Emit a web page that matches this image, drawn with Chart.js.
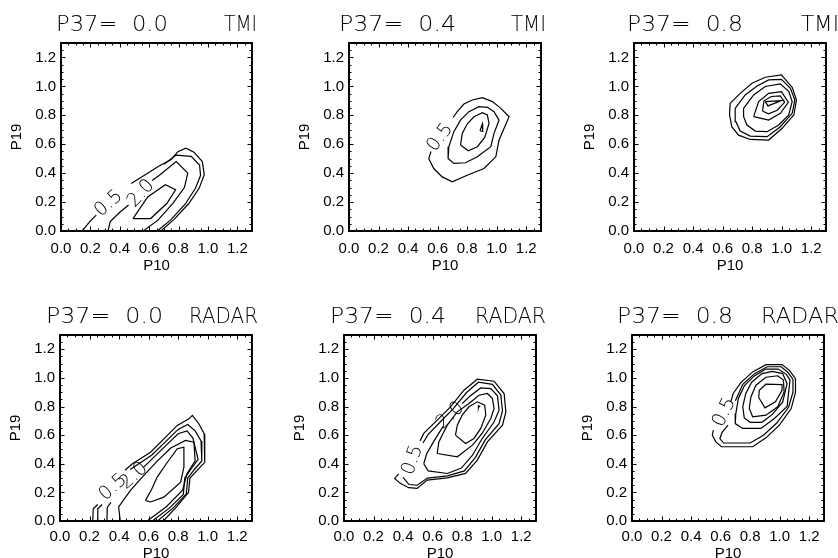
<!DOCTYPE html>
<html>
<head>
<meta charset="utf-8">
<script src="https://cdn.jsdelivr.net/npm/chart.js@4.4.1/dist/chart.umd.min.js"></script>
<style>
  html, body { margin: 0; padding: 0; background: #fff; overflow: hidden; }
  body { width: 838px; height: 558px; position: relative; }
  canvas { position: absolute; }
</style>
</head>
<body>
<script>
// axis ticks (both axes run 0 .. 1.3)
const X_TICKS = [0, 0.2, 0.4, 0.6, 0.8, 1.0, 1.2];
const Y_TICKS = [0, 0.2, 0.4, 0.6, 0.8, 1.0, 1.2];
const AXIS_MAX = 1.3;

const P37_TITLES = ['P37=  0.0', 'P37=  0.4', 'P37=  0.8', 'P37=  0.0', 'P37=  0.4', 'P37=  0.8'];
const SOURCES = ['TMI', 'TMI', 'TMI', 'RADAR', 'RADAR', 'RADAR'];

// contour lines as [P10, P19]; null breaks the line where a level label sits
const tmi00_c1 = [[0.144,0],[0.20,0.07],[0.24,0.11],null,[0.478,0.329],[0.568,0.386],[0.659,0.444],[0.75,0.495],[0.795,0.548],[0.85,0.572],[0.905,0.545],[0.962,0.48],[0.975,0.39],[0.94,0.295],[0.87,0.19],[0.77,0.08],[0.68,0]];
const tmi00_c2 = [[0.70,0.462],[0.784,0.525],[0.886,0.516],[0.943,0.456],[0.95,0.385],[0.915,0.295],[0.845,0.185],[0.745,0.075],[0.655,0]];
const tmi00_c3 = [[0.32,0],[0.335,0.065],[0.40,0.13],[0.46,0.18],null,[0.62,0.35],[0.67,0.385],[0.784,0.48],[0.863,0.40],[0.84,0.30],[0.76,0.19],[0.66,0.075],[0.56,0]];
const tmi00_c4 = [[0.49,0.086],[0.61,0.086],[0.72,0.19],[0.78,0.285],[0.71,0.32],[0.59,0.235],[0.49,0.086]];
const tmi00_labels = [['0.5', 0.325, 0.19, -41], ['2.0', 0.545, 0.26, -48]];

const tmi04_c1 = [[0.555,0.55],[0.54,0.50],[0.574,0.432],[0.631,0.374],[0.699,0.34],[0.80,0.386],[0.914,0.432],[0.994,0.513],[1.016,0.629],[1.084,0.79],[1.028,0.848],[0.971,0.895],[0.903,0.922],[0.835,0.906],[0.778,0.878],[0.733,0.825],[0.705,0.785]];
const tmi04_c2 = [[0.676,0.583],[0.671,0.502],[0.71,0.467],[0.789,0.472],[0.869,0.513],[0.96,0.583],[0.982,0.675],[1.016,0.767],[0.982,0.825],[0.937,0.855],[0.88,0.86],[0.812,0.825],[0.755,0.767],[0.71,0.687],[0.676,0.583]];
const tmi04_c3 = [[0.755,0.594],[0.808,0.555],[0.869,0.583],[0.919,0.647],[0.948,0.744],[0.937,0.802],[0.903,0.818],[0.846,0.79],[0.80,0.74],[0.767,0.675],[0.755,0.594]];
const tmi04_c4 = [[0.887,0.693],[0.903,0.74],[0.905,0.688],[0.887,0.693]];
const tmi04_labels = [['0.5', 0.617, 0.646, -53]];

const tmi08_c1 = [[0.651,0.883],[0.719,0.952],[0.799,1.022],[0.889,1.063],[0.998,1.08],[1.071,0.994],[1.10,0.906],[1.082,0.802],[1.003,0.71],[0.912,0.629],[0.787,0.633],[0.708,0.663],[0.662,0.721],[0.647,0.802],[0.651,0.883]];
const tmi08_c2 = [[0.685,0.848],[0.753,0.941],[0.833,1.003],[0.912,1.045],[0.998,1.049],[1.059,0.987],[1.089,0.906],[1.071,0.814],[0.991,0.721],[0.901,0.652],[0.787,0.656],[0.719,0.691],[0.69,0.756],[0.685,0.848]];
const tmi08_c3 = [[0.742,0.848],[0.81,0.941],[0.889,0.999],[0.991,1.017],[1.048,0.964],[1.071,0.895],[1.048,0.802],[0.98,0.733],[0.901,0.687],[0.821,0.691],[0.765,0.733],[0.742,0.791],[0.742,0.848]];
const tmi08_c4 = [[0.81,0.791],[0.844,0.895],[0.912,0.952],[0.998,0.964],[1.045,0.89],[0.991,0.814],[0.912,0.767],[0.81,0.791]];
const tmi08_c5 = [[0.87,0.83],[0.88,0.90],[0.93,0.93],[0.99,0.935],[1.02,0.89],[0.97,0.835],[0.91,0.81],[0.87,0.83]];
const tmi08_c6 = [[0.889,0.895],[0.998,0.902],[0.907,0.865],[0.889,0.895]];
const tmi08_labels = [];

const radar00_c1 = [[0.222,0],[0.225,0.085],[0.255,0.115],null,[0.44,0.355],[0.49,0.40],[0.613,0.481],[0.70,0.57],[0.794,0.668],[0.873,0.714],[0.896,0.738],[0.94,0.68],[0.976,0.61],[0.98,0.41],[0.93,0.355],[0.88,0.30],[0.87,0.20],[0.79,0.10],[0.70,0]];
const radar00_c2 = [[0.254,0],[0.256,0.085],[0.285,0.115],null,[0.475,0.36],[0.62,0.46],[0.71,0.55],[0.80,0.64],[0.865,0.675],[0.915,0.63],[0.955,0.56],[0.96,0.42],[0.91,0.36],[0.865,0.30],[0.855,0.19],[0.77,0.095],[0.66,0]];
const radar00_c3 = [[0.318,0],[0.32,0.095],[0.345,0.13],null,[0.565,0.375],[0.64,0.45],[0.72,0.53],[0.80,0.61],[0.86,0.63],[0.90,0.58],[0.935,0.43],[0.885,0.36],[0.845,0.30],[0.835,0.185],[0.74,0.09],[0.625,0]];
const radar00_c4 = [[0.408,0],[0.397,0.098],[0.477,0.214],[0.56,0.31],[0.66,0.42],[0.75,0.51],[0.85,0.563],[0.907,0.551],[0.915,0.42],[0.86,0.33],[0.83,0.215],[0.72,0.10],[0.59,0]];
const radar00_c5 = [[0.579,0.144],[0.62,0.22],[0.658,0.307],[0.72,0.40],[0.794,0.505],[0.839,0.516],[0.839,0.377],[0.817,0.272],[0.703,0.167],[0.613,0.133],[0.579,0.144]];
const radar00_labels = [['0.5', 0.36, 0.235, -42], ['2.0', 0.50, 0.315, -42]];

const radar04_c1 = [[0.37,0.33],[0.343,0.298],[0.381,0.263],[0.438,0.233],[0.495,0.228],[0.563,0.286],[0.699,0.302],[0.823,0.333],[0.903,0.426],[0.971,0.553],[1.073,0.67],[1.096,0.763],[1.084,0.891],[1.016,0.977],[0.903,0.991],[0.812,0.914],[0.721,0.798],[0.631,0.705],[0.54,0.612],[0.515,0.56]];
const radar04_c2 = [[0.40,0.305],[0.44,0.255],[0.495,0.25],[0.565,0.30],[0.70,0.316],[0.815,0.35],[0.89,0.445],[0.955,0.565],[1.05,0.68],[1.073,0.77],[1.062,0.88],[1.005,0.955],[0.91,0.97],[0.83,0.898],[0.74,0.785],[0.65,0.69],[0.57,0.605],[0.535,0.545]];
const radar04_c3 = [[0.54,0.40],[0.57,0.35],[0.70,0.332],[0.795,0.37],[0.87,0.46],[0.935,0.575],[1.015,0.69],[1.05,0.775],[1.039,0.875],[0.994,0.925],[0.925,0.93],[0.85,0.87],[0.80,0.82],null,[0.67,0.66],[0.61,0.56],[0.56,0.47],[0.54,0.40]];
const radar04_c4 = [[0.631,0.472],[0.767,0.449],[0.87,0.53],[0.935,0.612],[0.994,0.716],[1.016,0.786],[1.005,0.856],[0.971,0.891],[0.914,0.879],[0.846,0.821],[0.767,0.763],[0.699,0.67],[0.642,0.553],[0.631,0.472]];
const radar04_c5 = [[0.755,0.60],[0.823,0.542],[0.88,0.577],[0.926,0.647],[0.96,0.74],[0.953,0.809],[0.903,0.833],[0.846,0.798],[0.80,0.74],[0.767,0.67],[0.755,0.60]];
const radar04_c6 = [[0.91,0.795],[0.918,0.80],[0.912,0.805],[0.91,0.795]];
const radar04_labels = [['0.5', 0.465, 0.425, -70], ['2.0', 0.72, 0.737, -43]];

const radar08_c1 = [[0.669,0.833],[0.685,0.891],[0.737,0.967],[0.817,1.042],[0.907,1.093],[1.016,1.093],[1.066,1.053],[1.107,0.995],[1.107,0.90],[1.078,0.786],[0.998,0.67],[0.907,0.581],[0.817,0.519],[0.606,0.519],[0.567,0.553],[0.544,0.60],[0.551,0.635]];
const radar08_c2 = [[0.70,0.84],[0.75,0.955],[0.83,1.03],[0.915,1.078],[1.01,1.078],[1.055,1.04],[1.09,0.99],[1.09,0.90],[1.06,0.795],[0.98,0.685],[0.89,0.60],[0.80,0.545],[0.62,0.545],[0.595,0.575],[0.61,0.62],[0.65,0.67]];
const radar08_c3 = [[0.703,0.751],[0.699,0.681],[0.749,0.647],[0.873,0.647],[0.964,0.716],[1.05,0.80],[1.07,0.985],[1.045,1.025],[0.99,1.062],[0.907,1.062],[0.828,1.014],[0.76,0.944],[0.72,0.856],[0.703,0.751]];
const radar08_c4 = [[0.75,0.80],[0.76,0.72],[0.80,0.69],[0.88,0.69],[0.95,0.745],[1.02,0.83],[1.05,0.96],[1.02,1.03],[0.95,1.045],[0.88,1.03],[0.81,0.97],[0.77,0.89],[0.75,0.80]];
const radar08_c5 = [[0.794,0.786],[0.817,0.728],[0.907,0.74],[0.987,0.798],[1.03,0.902],[1.025,0.985],[0.987,1.015],[0.907,1.005],[0.839,0.949],[0.805,0.867],[0.794,0.786]];
const radar08_c6 = [[0.858,0.863],[0.90,0.791],[0.971,0.833],[1.016,0.914],[1.016,0.953],[0.907,0.956],[0.862,0.914],[0.858,0.863]];
const radar08_labels = [['0.5', 0.626, 0.76, -64]];

const PANEL_LINES = [
  [tmi00_c1, tmi00_c2, tmi00_c3, tmi00_c4],
  [tmi04_c1, tmi04_c2, tmi04_c3, tmi04_c4],
  [tmi08_c1, tmi08_c2, tmi08_c3, tmi08_c4, tmi08_c5, tmi08_c6],
  [radar00_c1, radar00_c2, radar00_c3, radar00_c4, radar00_c5],
  [radar04_c1, radar04_c2, radar04_c3, radar04_c4, radar04_c5, radar04_c6],
  [radar08_c1, radar08_c2, radar08_c3, radar08_c4, radar08_c5, radar08_c6],
];
const PANEL_LABELS = [tmi00_labels, tmi04_labels, tmi08_labels, radar00_labels, radar04_labels, radar08_labels];

// page layout: plot box of each panel, title text x positions and widths
const BOXES = [
  { x: 61,  y: 43,  w: 191, h: 188, xh: 46, tickPad: 10 },
  { x: 349, y: 43,  w: 192, h: 188, xh: 46, tickPad: 10 },
  { x: 634, y: 43,  w: 192, h: 188, xh: 46, tickPad: 10 },
  { x: 60,  y: 335, w: 192, h: 186, xh: 44, tickPad: 8 },
  { x: 344, y: 335, w: 192, h: 186, xh: 44, tickPad: 8 },
  { x: 632, y: 335, w: 192, h: 186, xh: 44, tickPad: 8 },
];
const TITLE_X = [[56, 224], [339, 511], [627, 801], [46, 189], [330, 475], [617, 761]];
const TITLE_W = [[112, 33], [117, 35], [116, 38], [117, 69], [116, 71], [116, 78]];
const PAD_L = 62, PAD_T = 45, PAD_R = 30;

const LABEL_FONT = '"Liberation Sans", Arial, sans-serif';
const THIN_FONT = '"DejaVu Sans", sans-serif';

// text squeezed/stretched to a given width (IDL vector font is wider than ours)
function fitText(ctx, txt, x, y, w) {
  const m = ctx.measureText(txt).width;
  ctx.save();
  ctx.translate(x, y);
  ctx.scale(w / m, 1);
  ctx.fillText(txt, 0, 0);
  ctx.restore();
}

// IDL-style box: frame plus inward major/minor ticks on all four sides
const idlFrame = {
  id: 'idlFrame',
  afterDatasetsDraw(chart, args, opts) {
    const { ctx, chartArea: a, scales: { x, y } } = chart;
    ctx.save();
    ctx.strokeStyle = '#000';
    ctx.lineWidth = 1;
    ctx.beginPath();
    for (let i = 1; i < 26; i++) {
      const len = i % 4 === 0 ? 4.5 : 2.5;
      const px = Math.round(x.getPixelForValue(i * 0.05)) + 0.5;
      const py = Math.round(y.getPixelForValue(i * 0.05)) + 0.5;
      ctx.moveTo(px, a.bottom); ctx.lineTo(px, a.bottom - len);
      ctx.moveTo(px, a.top); ctx.lineTo(px, a.top + len);
      ctx.moveTo(a.left, py); ctx.lineTo(a.left + len, py);
      ctx.moveTo(a.right, py); ctx.lineTo(a.right - len, py);
    }
    ctx.stroke();
    ctx.lineWidth = 2;
    ctx.strokeRect(a.left, a.top, a.width, a.height);

    // contour level labels
    ctx.fillStyle = '#000';
    ctx.font = '200 19px ' + THIN_FONT;
    ctx.textAlign = 'center';
    ctx.textBaseline = 'middle';
    opts.labels.forEach(([txt, vx, vy, rot]) => {
      ctx.save();
      ctx.translate(x.getPixelForValue(vx), y.getPixelForValue(vy));
      ctx.rotate(rot * Math.PI / 180);
      ctx.fillText(txt, 0, 0);
      ctx.restore();
    });

    // panel title
    ctx.font = '200 22px ' + THIN_FONT;
    ctx.textAlign = 'left';
    ctx.textBaseline = 'alphabetic';
    fitText(ctx, opts.title, opts.titleX, a.top - 12, opts.titleW);
    fitText(ctx, opts.source, opts.sourceX, a.top - 12, opts.sourceW);
    ctx.restore();
  }
};

BOXES.forEach((b, i) => {
  const W = PAD_L + b.w + PAD_R;
  const H = PAD_T + b.h + b.xh;
  const cv = document.createElement('canvas');
  cv.width = W; cv.height = H;
  cv.style.left = (b.x - PAD_L) + 'px';
  cv.style.top = (b.y - PAD_T) + 'px';
  cv.style.width = W + 'px';
  cv.style.height = H + 'px';
  document.body.appendChild(cv);

  const datasets = PANEL_LINES[i].map(line => ({
    data: line.map(p => p ? { x: p[0], y: p[1] } : { x: null, y: null }),
    showLine: true,
    spanGaps: false,
    borderColor: '#000',
    borderWidth: 1.2,
    pointRadius: 0,
    tension: 0,
    fill: false,
  }));

  const tickFont = { size: 15, family: LABEL_FONT };
  new Chart(cv, {
    type: 'scatter',
    data: { datasets },
    options: {
      responsive: false,
      maintainAspectRatio: false,
      animation: false,
      devicePixelRatio: 1,
      layout: { padding: { left: 0, top: PAD_T, right: PAD_R, bottom: 0 } },
      plugins: {
        legend: { display: false },
        tooltip: { enabled: false },
        idlFrame: {
          labels: PANEL_LABELS[i],
          title: P37_TITLES[i],
          source: SOURCES[i],
          titleX: TITLE_X[i][0] - (b.x - PAD_L),
          sourceX: TITLE_X[i][1] - (b.x - PAD_L),
          titleW: TITLE_W[i][0],
          sourceW: TITLE_W[i][1],
        },
      },
      scales: {
        x: {
          type: 'linear', min: 0, max: AXIS_MAX,
          afterBuildTicks: s => { s.ticks = X_TICKS.map(v => ({ value: v })); },
          afterFit: s => { s.height = b.xh; },
          ticks: { callback: v => v.toFixed(1), font: tickFont, color: '#000', padding: b.tickPad - 1, maxRotation: 0, autoSkip: false },
          grid: { display: false, drawTicks: false },
          border: { display: false },
          title: { display: true, text: 'P10', font: tickFont, color: '#000', padding: { top: 0, bottom: 2 } },
        },
        y: {
          type: 'linear', min: 0, max: AXIS_MAX,
          afterBuildTicks: s => { s.ticks = Y_TICKS.map(v => ({ value: v })); },
          afterFit: s => { s.width = PAD_L; },
          ticks: { callback: v => v.toFixed(1), font: tickFont, color: '#000', padding: 5, autoSkip: false },
          grid: { display: false, drawTicks: false },
          border: { display: false },
          title: { display: true, text: 'P19', font: tickFont, color: '#000', padding: { top: 9, bottom: 0 } },
        },
      },
    },
    plugins: [idlFrame],
  });
});
</script>
</body>
</html>
